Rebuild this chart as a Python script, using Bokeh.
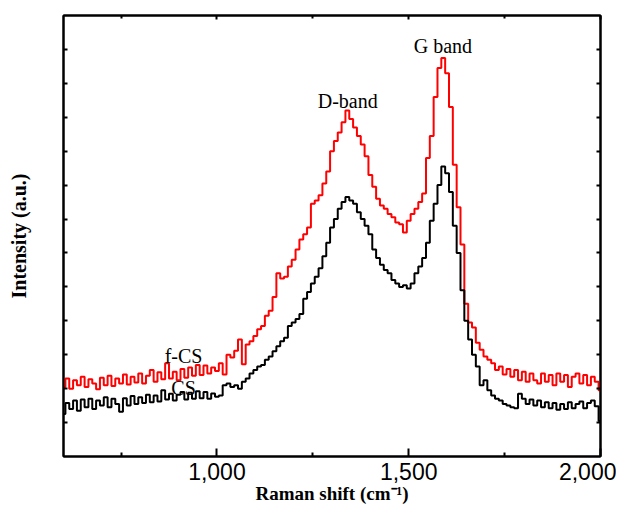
from bokeh.plotting import figure
from bokeh.models import LinearAxis, FixedTicker, Range1d
from bokeh.core.properties import value
from bokeh.embed import file_html
from bokeh.resources import INLINE

shift = list(range(600, 2001, 10))

fcs = [
    2.05, 2.30, 2.00, 2.25, 2.10, 2.35, 2.05, 2.28, 2.15, 1.98,
    2.32, 2.10, 2.38, 2.08, 2.30, 2.15, 2.42, 2.12, 2.35, 2.18,
    2.45, 2.15, 2.38, 2.55, 2.20, 2.48, 2.28, 2.75, 2.30, 2.50,
    2.25, 2.58, 2.32, 2.62, 2.38, 2.70, 2.40, 2.68, 2.45, 2.62,
    2.52, 2.75, 2.42, 3.00, 2.92, 3.12, 3.45, 2.72, 3.30, 3.40,
    3.55, 3.75, 3.85, 4.15, 4.30, 4.70, 5.40, 5.25, 5.30, 5.60,
    5.80, 6.10, 6.40, 6.55, 6.75, 7.45, 7.55, 7.70, 8.05, 8.40,
    9.00, 9.30, 9.55, 9.85, 10.20, 9.95, 9.70, 9.45, 9.20, 8.85,
    8.30, 7.95, 7.60, 7.40, 7.30, 7.15, 7.05, 6.90, 6.85, 6.60,
    6.95, 7.15, 7.30, 7.50, 7.75, 8.80, 9.45, 10.60, 11.45, 11.75,
    11.30, 10.30, 8.60, 7.35, 6.25, 4.50, 3.95, 3.80, 3.35, 3.15,
    2.95, 2.85, 2.75, 2.55, 2.65, 2.42, 2.58, 2.35, 2.55, 2.25,
    2.50, 2.20, 2.45, 2.25, 2.15, 2.45, 2.20, 2.40, 2.10, 2.45,
    2.20, 2.40, 2.05, 2.35, 2.45, 2.15, 2.40, 2.10, 2.35, 2.20,
    1.95,
]

cs = [
    1.25, 1.58, 1.40, 1.65, 1.35, 1.68, 1.45, 1.70, 1.40, 1.65,
    1.50, 1.75, 1.45, 1.70, 1.55, 1.32, 1.72, 1.50, 1.78, 1.55,
    1.75, 1.58, 1.82, 1.60, 1.80, 1.62, 1.95, 1.68, 1.85, 1.65,
    1.82, 1.90, 1.68, 1.88, 1.70, 1.92, 1.72, 1.90, 1.70, 1.86,
    1.76, 1.80, 2.10, 2.15, 2.05, 2.10, 2.00, 2.20, 2.30, 2.45,
    2.55, 2.65, 2.70, 2.85, 2.95, 3.10, 3.25, 3.40, 3.50, 3.85,
    3.95, 4.05, 4.20, 4.65, 4.85, 5.10, 5.30, 5.55, 5.90, 6.30,
    6.75, 7.00, 7.30, 7.50, 7.65, 7.55, 7.45, 7.20, 7.00, 6.80,
    6.55, 6.10, 5.85, 5.65, 5.50, 5.40, 5.20, 5.10, 5.00, 5.05,
    4.95, 5.10, 5.40, 5.60, 5.85, 6.30, 6.95, 7.45, 8.00, 8.55,
    8.35, 7.80, 6.80, 6.00, 4.90, 4.00, 3.45, 3.00, 2.65, 2.10,
    2.25, 1.95, 1.80, 1.70, 1.65, 1.55, 1.50, 1.45, 1.42, 1.85,
    1.70, 1.55, 1.68, 1.50, 1.65, 1.45, 1.60, 1.42, 1.58, 1.38,
    1.55, 1.40, 1.60, 1.42, 1.55, 1.62, 1.42, 1.58, 1.65, 1.48,
    1.05,
]

x_major = [1000, 1500, 2000]
x_minor = [750, 1250, 1750]
y_ticks = list(range(1, 13))

ann_text = ["G band", "D-band", "f-CS", "CS"]
ann_x = [1589, 1341, 913, 913]
ann_y = [12.09, 10.47, 2.97, 2.03]

p = figure(width=616, height=511, output_backend="svg", toolbar_location=None,
           x_range=Range1d(600, 2000), y_range=Range1d(0, 13),
           min_border_left=63, min_border_right=16, min_border_top=15, min_border_bottom=55)
p.grid.visible = False
p.outline_line_color = "black"
p.outline_line_width = 2
p.background_fill_color = "white"

p.step(shift, fcs, mode="center", line_color="#ff0000", line_width=2)
p.step(shift, cs, mode="center", line_color="black", line_width=2)

p.text(x=ann_x, y=ann_y, text=ann_text, text_align="center", text_baseline="middle",
       text_font=value("Liberation Serif"), text_font_size="20px", text_color="black")

# bottom axis
xa = p.xaxis[0]
xa.ticker = FixedTicker(ticks=x_major, minor_ticks=x_minor)
xa.major_label_overrides = {1000: "1,000", 1500: "1,500", 2000: "2,000"}
xa.major_label_text_font = "Liberation Sans"
xa.major_label_text_font_size = "23px"
xa.major_label_text_color = "black"
xa.major_label_standoff = 6
xa.major_tick_in = 8
xa.major_tick_out = 0
xa.minor_tick_in = 4
xa.minor_tick_out = 0
xa.axis_line_width = 2
xa.major_tick_line_width = 2
xa.minor_tick_line_width = 2
xa.axis_label = "Raman shift (cm\u207b\u00b9)"
xa.axis_label_text_font = "Liberation Serif"
xa.axis_label_text_font_style = "bold"
xa.axis_label_text_font_size = "19px"
xa.axis_label_text_color = "black"
xa.axis_label_standoff = 0

# left axis
ya = p.yaxis[0]
ya.ticker = FixedTicker(ticks=y_ticks, minor_ticks=[])
ya.major_label_text_font_size = "1px"
ya.major_label_text_color = None
ya.major_label_standoff = 0
ya.major_tick_in = 4
ya.major_tick_out = 0
ya.minor_tick_line_color = None
ya.axis_line_width = 2
ya.major_tick_line_width = 2
ya.axis_label = "Intensity (a.u.)"
ya.axis_label_text_font = "Liberation Serif"
ya.axis_label_text_font_style = "bold"
ya.axis_label_text_font_size = "20px"
ya.axis_label_text_color = "black"
ya.axis_label_standoff = 34

# top axis
ta = LinearAxis(ticker=FixedTicker(ticks=x_major, minor_ticks=x_minor),
                major_label_text_font_size="1px", major_label_text_color=None,
                major_label_standoff=0,
                major_tick_in=4, major_tick_out=0, minor_tick_in=3, minor_tick_out=0,
                axis_line_width=2, major_tick_line_width=2, minor_tick_line_width=2)
p.add_layout(ta, "above")

# right axis
ra = LinearAxis(ticker=FixedTicker(ticks=y_ticks, minor_ticks=[]),
                major_label_text_font_size="1px", major_label_text_color=None,
                major_label_standoff=0,
                major_tick_in=4, major_tick_out=0, minor_tick_line_color=None,
                axis_line_width=2, major_tick_line_width=2)
p.add_layout(ra, "right")

open("out.html", "w").write(file_html(p, INLINE))
